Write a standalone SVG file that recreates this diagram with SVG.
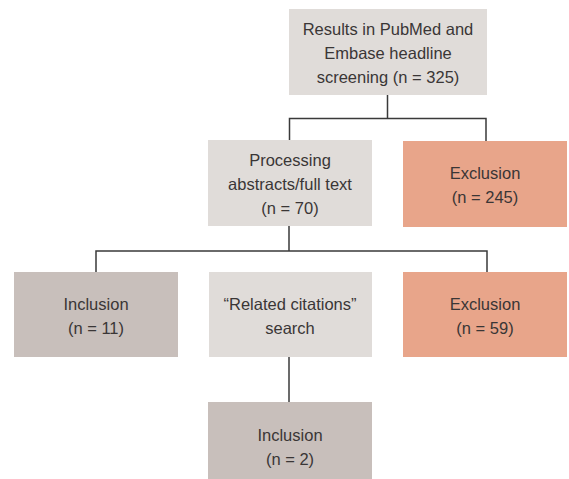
<svg xmlns="http://www.w3.org/2000/svg" width="569" height="479" viewBox="0 0 569 479">
<style>
.g{fill:#e0dcd9}
.i{fill:#c8bfbb}
.x{fill:#e8a58a}
text{font-family:"Liberation Sans",Arial,sans-serif;font-size:16.5px;fill:#3a3636;text-anchor:middle}
.c{fill:none;stroke:#3a3a3a;stroke-width:1.5}
</style>
<rect width="569" height="479" fill="#fff"/>
<g id="connectors" class="c">
<path d="M387.5 95V118.5M289.5 140V118.5H486V141"/>
<path d="M289 226V251M96 272V251H487V272"/>
<path d="M289 357V402"/>
</g>
<g id="results"><rect class="g" x="289" y="9" width="198" height="86"/>
<text x="388" y="35">Results in PubMed and</text><text x="388" y="59">Embase headline</text><text x="388" y="83">screening (n = 325)</text></g>
<g id="processing"><rect class="g" x="208" y="140" width="164" height="86"/>
<text x="290" y="166">Processing</text><text x="290" y="190">abstracts/full text</text><text x="290" y="214">(n = 70)</text></g>
<g id="exclusion1"><rect class="x" x="403" y="141" width="164" height="86"/>
<text x="485" y="179">Exclusion</text><text x="485" y="203">(n = 245)</text></g>
<g id="inclusion1"><rect class="i" x="14" y="272" width="164" height="85"/>
<text x="96" y="310">Inclusion</text><text x="96" y="334">(n = 11)</text></g>
<g id="related"><rect class="g" x="209" y="272" width="163" height="85"/>
<text x="290" y="310">“Related citations”</text><text x="290" y="334">search</text></g>
<g id="exclusion2"><rect class="x" x="403" y="272" width="164" height="85"/>
<text x="485" y="310">Exclusion</text><text x="485" y="334">(n = 59)</text></g>
<g id="inclusion2"><rect class="i" x="208" y="402" width="164" height="77"/>
<text x="290" y="441">Inclusion</text><text x="290" y="465">(n = 2)</text></g>
</svg>
